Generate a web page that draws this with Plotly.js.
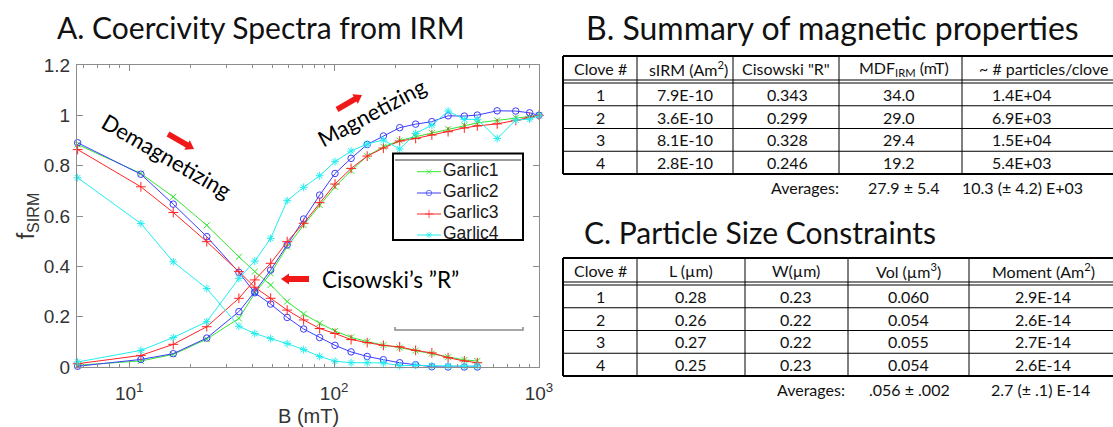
<!DOCTYPE html>
<html><head><meta charset="utf-8">
<script src="https://cdn.plot.ly/plotly-3.0.1.min.js"></script>
<style>html,body{margin:0;padding:0;background:#fff}#chart{width:1113px;height:427px}</style>
</head><body><div id="chart"></div>
<script>
// ---------------- DATA ----------------
const seriesNames = ['Garlic1', 'Garlic2', 'Garlic3', 'Garlic4'];
const fieldDemag = [5.6, 11.4, 16.4, 23.9, 34.3, 41, 49, 59, 71, 85, 101, 121, 145, 174, 209, 250, 300, 360, 432, 500];
const fieldMag   = [5.6, 11.4, 16.4, 23.9, 34.3, 41, 49, 59, 71, 85, 101, 121, 145, 174, 209, 250, 300, 360, 432, 500, 625, 770, 900, 1000];

const garlic1Demag = [0.884, 0.769, 0.676, 0.563, 0.438, 0.379, 0.326, 0.260, 0.211, 0.174, 0.143, 0.118, 0.101, 0.087, 0.077, 0.065, 0.054, 0.039, 0.028, 0.024];
const garlic1Mag   = [0.007, 0.024, 0.050, 0.111, 0.193, 0.293, 0.372, 0.478, 0.564, 0.644, 0.716, 0.780, 0.838, 0.875, 0.900, 0.915, 0.930, 0.945, 0.960, 0.970, 0.980, 0.990, 0.995, 1.000];
const garlic2Demag = [0.891, 0.766, 0.647, 0.518, 0.376, 0.295, 0.250, 0.197, 0.151, 0.117, 0.086, 0.060, 0.042, 0.029, 0.017, 0.009, 0.001, 0.000, 0.000, 0.000];
const garlic2Mag   = [0.003, 0.030, 0.053, 0.115, 0.220, 0.299, 0.385, 0.485, 0.588, 0.683, 0.769, 0.829, 0.884, 0.918, 0.951, 0.965, 0.975, 0.998, 0.997, 1.001, 1.018, 1.017, 1.010, 1.000];
const garlic3Demag = [0.864, 0.716, 0.614, 0.498, 0.379, 0.317, 0.273, 0.226, 0.187, 0.153, 0.133, 0.109, 0.097, 0.086, 0.080, 0.066, 0.056, 0.037, 0.024, 0.017];
const garlic3Mag   = [0.013, 0.046, 0.090, 0.160, 0.273, 0.346, 0.412, 0.498, 0.571, 0.653, 0.727, 0.789, 0.838, 0.870, 0.898, 0.908, 0.922, 0.935, 0.950, 0.958, 0.966, 0.980, 0.992, 1.000];
const garlic4Demag = [0.752, 0.570, 0.418, 0.312, 0.162, 0.133, 0.113, 0.093, 0.069, 0.042, 0.023, 0.017, 0.017, 0.016, 0.005, 0.007, 0.005, 0.004, 0.004, 0.004];
const garlic4Mag   = [0.020, 0.066, 0.117, 0.180, 0.352, 0.421, 0.511, 0.661, 0.714, 0.760, 0.816, 0.858, 0.886, 0.902, 0.866, 0.928, 0.961, 1.017, 0.984, 0.984, 0.908, 0.981, 0.985, 1.000];

const xTickVals = [10, 100, 1000];
const xTickText = ['10<sup>1</sup>', '10<sup>2</sup>', '10<sup>3</sup>'];
const yTickVals = [0, 0.2, 0.4, 0.6, 0.8, 1, 1.2];
const yTickText = ['0', '0.2', '0.4', '0.6', '0.8', '1', '1.2'];

// Table B
const headersB = ['Clove #', 'sIRM (Am<sup>2</sup>)', 'Cisowski "R"', 'MDF<sub>IRM</sub> (mT)', '~ # particles/clove'];
const cloveB = ['1', '2', '3', '4'];
const sirmB = ['7.9E-10', '3.6E-10', '8.1E-10', '2.8E-10'];
const cisowskiR = ['0.343', '0.299', '0.328', '0.246'];
const mdfIRM = ['34.0', '29.0', '29.4', '19.2'];
const particlesPerClove = ['1.4E+04', '6.9E+03', '1.5E+04', '5.4E+03'];
const averagesB = ['Averages:', '27.9 ± 5.4', '10.3 (± 4.2) E+03'];

// Table C
const headersC = ['Clove #', 'L (µm)', 'W(µm)', 'Vol (µm<sup>3</sup>)', 'Moment (Am<sup>2</sup>)'];
const cloveC = ['1', '2', '3', '4'];
const lengthC = ['0.28', '0.26', '0.27', '0.25'];
const widthC = ['0.23', '0.22', '0.22', '0.23'];
const volumeC = ['0.060', '0.054', '0.055', '0.054'];
const momentC = ['2.9E-14', '2.6E-14', '2.7E-14', '2.6E-14'];
const averagesC = ['Averages:', '.056 ± .002', '2.7 (± .1) E-14'];

// ---------------- LAYOUT HELPERS ----------------
const W = 1113, H = 427;
const px = x => x / W;
const py = y => 1 - y / H;
const FONT = 'Lato, "Open Sans", sans-serif';
const AXFONT = '"Liberation Sans", Arial, sans-serif';

const colors = ['#33e633', '#3c3cff', '#ff2424', '#22eeee'];
const symbols = ['x-thin-open', 'circle-open', 'cross-thin-open', 'asterisk-open'];
const msizes = [6, 6.5, 7, 6.5];
const demagData = [garlic1Demag, garlic2Demag, garlic3Demag, garlic4Demag];
const magData = [garlic1Mag, garlic2Mag, garlic3Mag, garlic4Mag];

const traces = [];
for (let i = 0; i < 4; i++) {
  [[fieldDemag, demagData[i]], [fieldMag, magData[i]]].forEach(([xs, ys]) => {
    traces.push({
      x: xs, y: ys, type: 'scatter', mode: 'lines+markers', name: seriesNames[i],
      showlegend: false, cliponaxis: false, xaxis: 'x', yaxis: 'y',
      line: { color: colors[i], width: 1 },
      marker: { symbol: symbols[i], size: msizes[i], color: colors[i], line: { color: colors[i], width: 1 } }
    });
  });
}

// custom legend (overlay subplot, clipped like the original)
const legTop = 161, legBottom = 239, legLeft = 394, legRight = 524;
const lx = p => (p - legLeft) / (legRight - legLeft);
const ly = p => (legBottom - p) / (legBottom - legTop);
const legRows = [171.7, 193, 214, 235];
for (let i = 0; i < 4; i++) {
  traces.push({
    x: [lx(417), lx(429), lx(441)], y: [ly(legRows[i]), ly(legRows[i]), ly(legRows[i])],
    type: 'scatter', mode: 'lines+markers', xaxis: 'x2', yaxis: 'y2', showlegend: false, cliponaxis: true,
    line: { color: colors[i], width: 1 },
    marker: { symbol: symbols[i], size: [0, msizes[i] - 1, 0], color: colors[i], line: { color: colors[i], width: 1 } }
  });
  traces.push({
    x: [lx(443)], y: [ly(legRows[i])], type: 'scatter', mode: 'text', text: [seriesNames[i]],
    textposition: 'middle right', xaxis: 'x2', yaxis: 'y2', showlegend: false, cliponaxis: true,
    textfont: { family: AXFONT, size: 17.5, color: '#1a1a1a' }
  });
}

const shapes = [];
const annotations = [];

// legend box
shapes.push({ type: 'rect', xref: 'paper', yref: 'paper', x0: px(393), x1: px(523), y0: py(153.5), y1: py(240), line: { color: '#000', width: 2 } });
shapes.push({ type: 'line', xref: 'paper', yref: 'paper', x0: px(395), x1: px(521), y0: py(160), y1: py(160), line: { color: '#9a9a9a', width: 2 } });
// gray bracket
shapes.push({ type: 'path', xref: 'paper', yref: 'paper',
  path: `M ${px(395)} ${py(327)} L ${px(395)} ${py(330)} L ${px(523)} ${py(330)} L ${px(523)} ${py(327)}`,
  line: { color: '#8a8a8a', width: 1.5 } });

// block arrows
function blockArrow(x1, y1, x2, y2, sw, hw, hl) {
  const dx = x2 - x1, dy = y2 - y1, L = Math.hypot(dx, dy);
  const ux = dx / L, uy = dy / L, nx = -uy, ny = ux;
  const bx = x2 - ux * hl, by = y2 - uy * hl;
  const pts = [
    [x1 + nx * sw, y1 + ny * sw], [bx + nx * sw, by + ny * sw], [bx + nx * hw, by + ny * hw],
    [x2, y2], [bx - nx * hw, by - ny * hw], [bx - nx * sw, by - ny * sw], [x1 - nx * sw, y1 - ny * sw]
  ];
  const d = 'M ' + pts.map(p => `${px(p[0]).toFixed(5)} ${py(p[1]).toFixed(5)}`).join(' L ') + ' Z';
  shapes.push({ type: 'path', xref: 'paper', yref: 'paper', path: d, fillcolor: '#f01818', line: { width: 0 } });
}
blockArrow(168, 134, 194, 149, 2.8, 5.5, 8);
blockArrow(337, 109.5, 362, 95, 2.8, 5.5, 8);
blockArrow(309, 279, 281, 279, 2.9, 5.5, 8);

annotations.push({ xref: 'paper', yref: 'paper', x: px(166), y: py(156), text: 'Demagnetizing', showarrow: false,
  textangle: 30, xanchor: 'center', yanchor: 'middle', font: { family: FONT, size: 22, color: '#000' } });
annotations.push({ xref: 'paper', yref: 'paper', x: px(371), y: py(112), text: 'Magnetizing', showarrow: false,
  textangle: -28, xanchor: 'center', yanchor: 'middle', font: { family: FONT, size: 22, color: '#000' } });
annotations.push({ xref: 'paper', yref: 'paper', x: px(320), y: py(279), text: 'Cisowski’s ”R”', showarrow: false,
  xanchor: 'left', yanchor: 'middle', font: { family: FONT, size: 22.5, color: '#000' } });
// x-axis title
annotations.push({ xref: 'paper', yref: 'paper', x: px(308), y: py(416), text: 'B (mT)', showarrow: false,
  xanchor: 'center', yanchor: 'middle', font: { family: AXFONT, size: 20, color: '#333' } });

// Titles for B and C
annotations.push({ xref: 'paper', yref: 'paper', x: px(584), y: py(28), text: 'B. Summary of magnetic properties', showarrow: false,
  xanchor: 'left', yanchor: 'middle', font: { family: FONT, size: 32, color: '#111' } });
annotations.push({ xref: 'paper', yref: 'paper', x: px(582), y: py(232), text: 'C. Particle Size Constraints', showarrow: false,
  xanchor: 'left', yanchor: 'middle', font: { family: FONT, size: 30, color: '#111' } });

// Tables
function addTable(t) {
  const nRows = t.columns[0].length;
  const rowsTop = t.headBottom + 3;
  const rowH = (t.bottom - rowsTop) / nRows;
  const line = (x0, y0, x1, y1, w) => shapes.push({ type: 'line', xref: 'paper', yref: 'paper',
    x0: px(x0), y0: py(y0), x1: px(x1), y1: py(y1), line: { color: '#000', width: w } });
  line(t.dividers[0], t.top, t.right, t.top, 2);
  line(t.dividers[0], t.bottom, t.right, t.bottom, 2);
  line(t.dividers[0], t.headBottom, t.right, t.headBottom, 1);
  line(t.dividers[0], rowsTop, t.right, rowsTop, 1);
  for (let r = 1; r < nRows; r++) line(t.dividers[0], rowsTop + r * rowH, t.right, rowsTop + r * rowH, 1);
  t.dividers.forEach((d, i) => line(d, t.top, d, t.bottom, i === 0 ? 2 : 1));
  const tf = { family: FONT, size: 16, color: '#111' };
  t.headers.forEach((h, c) => annotations.push({ xref: 'paper', yref: 'paper', x: px(t.headerX[c]), y: py((t.top + t.headBottom) / 2 + 0.5),
    text: h, showarrow: false, xanchor: 'center', yanchor: 'middle', font: tf }));
  t.columns.forEach((col, c) => col.forEach((v, r) => annotations.push({ xref: 'paper', yref: 'paper',
    x: px(t.valueX[c]), y: py(rowsTop + (r + 0.5) * rowH), text: v, showarrow: false, xanchor: 'center', yanchor: 'middle', font: tf })));
  t.averages.forEach((v, i) => annotations.push({ xref: 'paper', yref: 'paper', x: px(t.averagesX[i]), y: py(t.averagesY),
    text: v, showarrow: false, xanchor: 'center', yanchor: 'middle', font: tf }));
}
addTable({
  dividers: [563, 637, 733, 839, 962], right: 1113, top: 56, headBottom: 80, bottom: 174,
  headers: headersB, headerX: [600, 688, 786, 904, 1043],
  columns: [cloveB, sirmB, cisowskiR, mdfIRM, particlesPerClove], valueX: [600, 685, 787, 899, 1021],
  averages: averagesB, averagesX: [805, 904, 1022], averagesY: 187
});
addTable({
  dividers: [563, 637, 745, 848, 969], right: 1113, top: 258, headBottom: 282, bottom: 376,
  headers: headersC, headerX: [600, 691, 796, 908, 1043],
  columns: [cloveC, lengthC, widthC, volumeC, momentC], valueX: [600, 691, 796, 908, 1043],
  averages: averagesC, averagesX: [811, 909, 1040], averagesY: 389
});

// minor ticks for log axis
const minorX = [];
[1, 10, 100].forEach(dec => { for (let m = 2; m <= 9; m++) { const v = m * dec; if (v > 5.56 && v < 1000) minorX.push(v); } });

const layout = {
  width: W, height: H, margin: { l: 0, r: 0, t: 0, b: 0 }, paper_bgcolor: '#fff', plot_bgcolor: '#fff',
  showlegend: false,
  title: { text: 'A. Coercivity Spectra from IRM', x: px(57), xanchor: 'left', y: py(28), yanchor: 'middle',
    xref: 'paper', yref: 'paper', font: { family: FONT, size: 30, color: '#111' } },
  xaxis: {
    type: 'log', range: [Math.log10(5.56), 3], domain: [px(77), px(539)], anchor: 'y',
    showline: true, linecolor: '#8c8c8c', linewidth: 1, mirror: 'allticks', ticks: 'inside', ticklen: 6, tickcolor: '#8c8c8c',
    tickmode: 'array', tickvals: xTickVals, ticktext: xTickText, showgrid: false, zeroline: false,
    tickfont: { family: AXFONT, size: 19, color: '#333' }, ticklabelstandoff: 9,
    minor: { tickmode: 'array', tickvals: minorX, ticks: 'inside', ticklen: 3, tickcolor: '#8c8c8c', showgrid: false }
  },
  yaxis: {
    range: [0, 1.2], domain: [py(367), py(65)], anchor: 'x',
    showline: true, linecolor: '#8c8c8c', linewidth: 1, mirror: 'allticks', ticks: 'inside', ticklen: 6, tickcolor: '#8c8c8c',
    tickmode: 'array', tickvals: yTickVals, ticktext: yTickText, showgrid: false, zeroline: false,
    tickfont: { family: AXFONT, size: 19, color: '#333' }, ticklabelstandoff: 2,
    title: { text: 'f<sub>SIRM</sub>', font: { family: AXFONT, size: 23, color: '#333' }, standoff: 2 }
  },
  xaxis2: { domain: [px(legLeft), px(legRight)], range: [0, 1], visible: false, anchor: 'y2', fixedrange: true },
  yaxis2: { domain: [py(legBottom), py(legTop)], range: [0, 1], visible: false, anchor: 'x2', fixedrange: true },
  shapes: shapes, annotations: annotations
};

Plotly.newPlot('chart', traces, layout, { staticPlot: true, displayModeBar: false });
</script></body></html>
